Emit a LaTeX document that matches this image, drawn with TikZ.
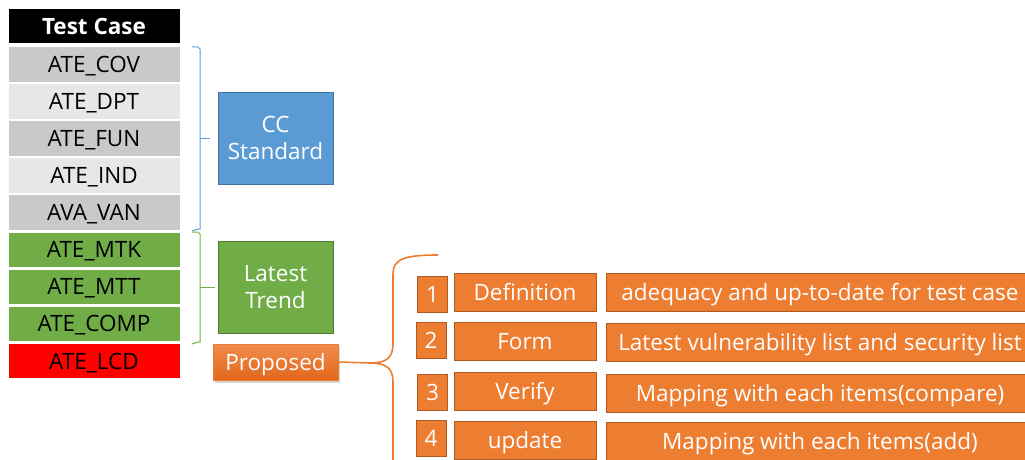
\documentclass[tikz,border=0pt]{standalone}
\usepackage{fontspec}
\setmainfont{Open Sans}
\usetikzlibrary{shadows}
\definecolor{hdr}{HTML}{000000}
\definecolor{greyA}{HTML}{C9C9C9}
\definecolor{greyB}{HTML}{E7E7E7}
\definecolor{leaf}{HTML}{70AD47}
\definecolor{leafdark}{HTML}{507E32}
\definecolor{sky}{HTML}{5B9BD5}
\definecolor{skydark}{HTML}{41719C}
\definecolor{amber}{HTML}{ED7D31}
\definecolor{amberdark}{HTML}{AE5A21}
\definecolor{amberhi}{HTML}{F28D4E}
\definecolor{amberlo}{HTML}{E0661A}
\definecolor{alarm}{HTML}{FF0000}
\tikzset{
  txt/.style={font=\fontsize{22.5}{24}\selectfont, text height=17pt, text depth=1pt},
  cell/.style={txt, draw=white, line width=1pt, minimum width=172pt, minimum height=35.5pt,
    inner sep=0pt, text=black},
  group/.style={line width=1pt, minimum width=115pt, minimum height=92pt, inner sep=0pt,
    text=white, align=center, font=\fontsize{22.5}{27}\selectfont},
  obox/.style={txt, fill=amber, draw=amberdark, line width=1pt, inner sep=0pt, text=white},
  numbox/.style={obox, minimum width=30pt, minimum height=36pt},
  keybox/.style={obox, minimum width=142pt, minimum height=38pt},
  descbox/.style={obox, minimum width=428pt, minimum height=38pt},
  brace/.style={line width=1pt},
}
\begin{document}
\begin{tikzpicture}[x=1pt, y=-1pt]
\useasboundingbox (0,0) rectangle (1025,460);
\clip (0,0) rectangle (1025,460);
% test case table
\node[cell, fill=hdr, text=white, minimum height=35pt, font=\fontsize{22.5}{24}\selectfont\bfseries] (head) at (94,26.5) {Test Case};
\node[cell, fill=greyA] (cov)  at (94,64.25)  {ATE\_COV};
\node[cell, fill=greyB] (dpt)  at (94,101.35) {ATE\_DPT};
\node[cell, fill=greyA] (fun)  at (94,138.45) {ATE\_FUN};
\node[cell, fill=greyB] (ind)  at (94,175.55) {ATE\_IND};
\node[cell, fill=greyA] (van)  at (94,212.65) {AVA\_VAN};
\node[cell, fill=leaf]  (mtk)  at (94,249.75) {ATE\_MTK};
\node[cell, fill=leaf]  (mtt)  at (94,286.85) {ATE\_MTT};
\node[cell, fill=leaf]  (comp) at (94,323.95) {ATE\_COMP};
\node[cell, fill=alarm] (lcd)  at (94,361.05) {ATE\_LCD};
% group labels
\node[group, fill=sky, draw=skydark] (cc) at (275.5,138) {CC\\Standard};
\node[group, fill=leaf, draw=leafdark] (trend) at (275.5,287) {Latest\\Trend};
\node[txt, inner sep=0pt, minimum width=125pt, minimum height=36pt, text=white,
  top color=amberhi, bottom color=amberlo, draw=amber, line width=0.6pt,
  drop shadow={opacity=0.35, shadow xshift=2pt, shadow yshift=-3pt}] (prop) at (275.5,362) {Proposed};
% braces
\coordinate (bA) at (192,47);  \coordinate (bB) at (192,231);
\coordinate (gA) at (192,232); \coordinate (gB) at (192,344);
\draw[brace, sky] (bA) -- ++(6,0) -- ++(2,2) |- ++(-2,180) -- (bB);
\draw[brace, sky] (200,138) -- (cc.west -| 210,0);
\draw[brace, leaf] (gA) -- ++(6,0) -- ++(2,2) |- ++(-2,108) -- (gB);
\draw[brace, leaf] (200,287) -- (trend.west -| 215,0);
% orange brace from the proposal
\coordinate (oTop) at (438,255);
\coordinate (oTip) at (370,363);
\coordinate (oEnd) at (393,470);
\draw[amber, line width=1.6pt] (oTop) .. controls (402,255) and (393,260) .. (393,274)
  -- (393,344) .. controls (393,358) and (386,363) .. (oTip);
\draw[amber, line width=1.6pt] (oTip) .. controls (386,363) and (393,368) .. (393,382) -- (oEnd);
\draw[amber, line width=1.6pt] (prop.east) -- (oTip);
% steps
\node[numbox] (n1) at (432.5,294) {1};
\node[numbox] (n2) at (431,340) {2};
\node[numbox] (n3) at (432.5,392) {3};
\node[numbox] (n4) at (431,438) {4};
\node[keybox] (k1) at (525,292.5) {Definition};
\node[keybox] (k2) at (525,341.5) {Form};
\node[keybox] (k3) at (525,391) {Verify};
\node[keybox] (k4) at (525,440) {update};
\node[descbox] (d1) at (820,292.5) {adequacy and up-to-date for test case};
\node[descbox] (d2) at (820,342.5) {Latest vulnerability list and security list};
\node[descbox] (d3) at (820,393.5) {Mapping with each items(compare)};
\node[descbox] (d4) at (820,441.5) {Mapping with each items(add)};
\end{tikzpicture}
\end{document}
